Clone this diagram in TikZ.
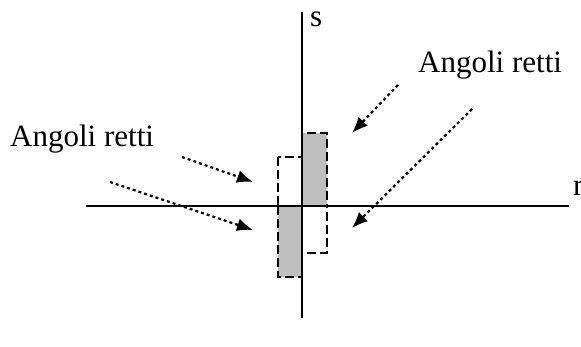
\documentclass[tikz,border=0pt]{standalone}
\usepackage{fontspec}
\setmainfont{Liberation Serif}
\usetikzlibrary{arrows.meta}
\begin{document}
\begin{tikzpicture}[x=1pt,y=-1pt,
  axis/.style={line width=2.6pt},
  dashbox/.style={draw=black,line width=2.6pt,dash pattern=on 9pt off 4pt},
  graybox/.style={dashbox,fill=black!25},
  pointer/.style={line width=2.2pt,dash pattern=on 3pt off 3pt,-{Latex[length=16pt,width=13pt]}},
  lbl/.style={font=\fontsize{31}{31}\selectfont,inner sep=0pt,anchor=base west}]
\useasboundingbox (0,0) rectangle (581,347);
% boxes
\draw[dashbox] (278,157) rectangle (302,206);
\draw[dashbox] (302,206) rectangle (327,253);
\draw[graybox] (302,133) rectangle (327,206);
\draw[graybox] (278,206) rectangle (302,277);
% axes
\coordinate (sTop) at (302,12);
\coordinate (sBot) at (302,318);
\coordinate (rLeft) at (86,206);
\coordinate (rRight) at (569,206);
\draw[axis] (sTop) -- (sBot);
\draw[axis] (rLeft) -- (rRight);
\node[lbl] (s) at (310,27) {s};
\node[lbl] (r) at (573,195.5) {r};
% labels
\node[lbl] (left) at (10,147) {Angoli retti};
\node[lbl] (right) at (418,73) {Angoli retti};
% arrows
\coordinate (a1s) at (182,157);
\coordinate (a1e) at (253,182);
\coordinate (a2s) at (110,182);
\coordinate (a2e) at (253,230);
\coordinate (a3s) at (398,85);
\coordinate (a3e) at (352,133);
\coordinate (a4s) at (472,109);
\coordinate (a4e) at (352,228);
\draw[pointer] (a1s) -- (a1e);
\draw[pointer] (a2s) -- (a2e);
\draw[pointer] (a3s) -- (a3e);
\draw[pointer] (a4s) -- (a4e);
\end{tikzpicture}
\end{document}
